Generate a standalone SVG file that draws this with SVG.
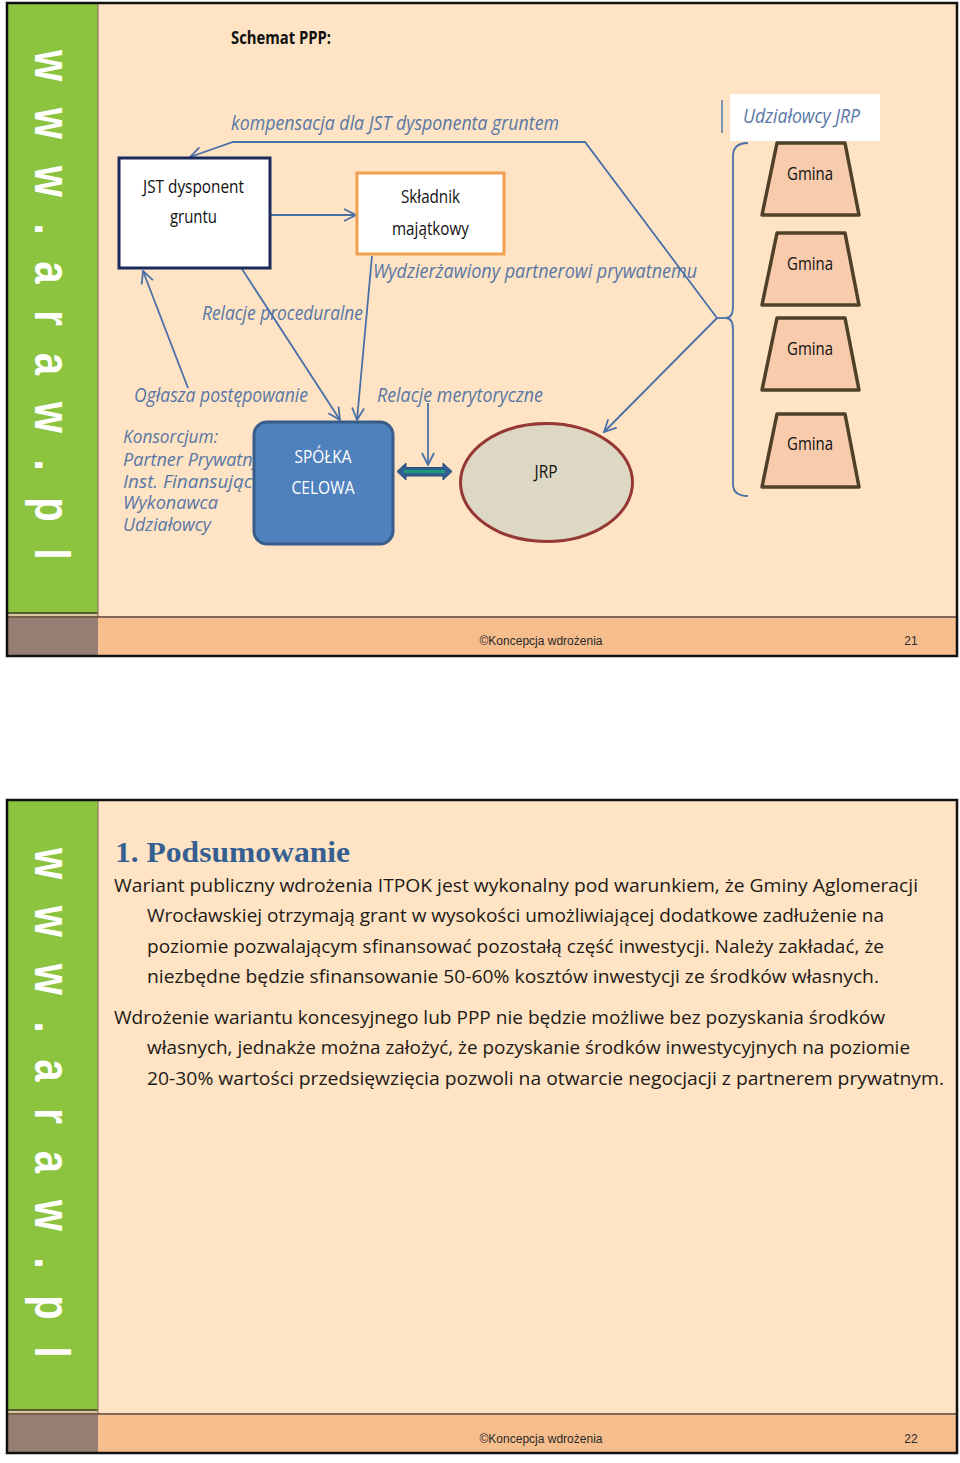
<svg xmlns="http://www.w3.org/2000/svg" width="960" height="1463" viewBox="0 0 960 1463">
<style>
.bg{fill:#ffffff}
.peach{fill:#fee4c4}
.green{fill:#8cc43f}
.foot{fill:#f6bd8d}
.gray{fill:#957f74}
.frame{fill:none;stroke:#111;stroke-width:2.5}
.side{font-family:"Liberation Sans",Arial,sans-serif;font-weight:bold;font-size:50px;fill:#ffffff}
.ft{font-family:"Liberation Sans",Arial,sans-serif;font-size:12px;fill:#2a2a2a}
.lbl{font-family:"Open Sans","Liberation Sans",sans-serif;font-style:italic;font-size:20px;fill:#5876a6}
.ks{font-size:18px}
.tx{font-family:"Open Sans","Liberation Sans",sans-serif;font-size:18px;fill:#111}
.wt{font-family:"Open Sans","Liberation Sans",sans-serif;font-size:18px;fill:#ffffff}
.para{font-family:"Open Sans","Liberation Sans",sans-serif;font-size:18px;fill:#1e1a16}
.conn{fill:none;stroke:#4a70a8;stroke-width:1.8}
.gm{fill:#f8cbad;stroke:#4f4128;stroke-width:3.5;stroke-linejoin:round}
</style>
<defs>
<marker id="ah" viewBox="0 0 14 14" refX="13" refY="7" markerWidth="14" markerHeight="14" markerUnits="userSpaceOnUse" orient="auto">
<path d="M1,1 L13,7 L1,13" fill="none" stroke="#4a70a8" stroke-width="1.8"/>
</marker>
</defs>
<rect class="bg" x="0" y="0" width="960" height="1463"/>

<!-- Slide 1 background -->
<g id="slide1">
<rect class="peach" x="98" y="4" width="858" height="613"/>
<rect class="green" x="8" y="4" width="90" height="609"/>
<rect x="8" y="613" width="90" height="5" fill="#d8c8a0"/>
<line x1="8" y1="613" x2="98" y2="613" stroke="#3a3a20" stroke-width="1.5"/>
<line x1="98" y1="4" x2="98" y2="617" stroke="#8a7a60" stroke-width="1.2"/>
<rect class="foot" x="98" y="618" width="858" height="37"/>
<rect class="gray" x="8" y="618" width="90" height="37"/>
<line x1="8" y1="617" x2="956" y2="617" stroke="#5a3a2a" stroke-width="1.5"/>
<rect class="frame" x="7" y="3" width="950" height="653"/>
<text class="side" transform="translate(35,50) rotate(90) scale(0.8,1)" textLength="637" lengthAdjust="spacing">w w w . a r a w . p l</text>
<text class="ft" x="541" y="645" text-anchor="middle" textLength="123" lengthAdjust="spacingAndGlyphs">©Koncepcja wdrożenia</text>
<text class="ft" x="911" y="645" text-anchor="middle">21</text>
</g>

<!-- Slide 1 content -->
<text x="231" y="44" font-family="Open Sans, Liberation Sans, sans-serif" font-weight="bold" font-size="18" fill="#111" textLength="100" lengthAdjust="spacingAndGlyphs">Schemat PPP:</text>

<g id="labels">
<text class="lbl" x="231" y="130" textLength="328" lengthAdjust="spacingAndGlyphs">kompensacja dla JST dysponenta  gruntem</text>
<text class="lbl" x="373" y="278" textLength="324" lengthAdjust="spacingAndGlyphs">Wydzierżawiony  partnerowi prywatnemu</text>
<text class="lbl" x="202" y="320" textLength="161" lengthAdjust="spacingAndGlyphs">Relacje proceduralne</text>
<text class="lbl" x="134" y="402" textLength="174" lengthAdjust="spacingAndGlyphs">Ogłasza postępowanie</text>
<text class="lbl" x="377" y="402" textLength="166" lengthAdjust="spacingAndGlyphs">Relacje merytoryczne</text>
</g>

<g id="konsorcjum">
<text class="lbl ks" x="123" y="443" textLength="95" lengthAdjust="spacingAndGlyphs">Konsorcjum:</text>
<text class="lbl ks" x="123" y="466" textLength="138" lengthAdjust="spacingAndGlyphs">Partner Prywatny</text>
<text class="lbl ks" x="123" y="488" textLength="140" lengthAdjust="spacingAndGlyphs">Inst. Finansująca</text>
<text class="lbl ks" x="123" y="509" textLength="95" lengthAdjust="spacingAndGlyphs">Wykonawca</text>
<text class="lbl ks" x="123" y="531" textLength="88" lengthAdjust="spacingAndGlyphs">Udziałowcy</text>
</g>

<g id="connectors">
<polyline class="conn" points="717,318 585,142 233,142 190,157" marker-end="url(#ah)"/>
<line class="conn" x1="717" y1="318" x2="604" y2="432" marker-end="url(#ah)"/>
<line class="conn" x1="717" y1="318" x2="727" y2="318"/>
<line class="conn" x1="270" y1="215" x2="356" y2="215" marker-end="url(#ah)"/>
<line class="conn" x1="372" y1="256" x2="357" y2="420" marker-end="url(#ah)"/>
<line class="conn" x1="242" y1="269" x2="340" y2="420" marker-end="url(#ah)"/>
<line class="conn" x1="188" y1="388" x2="143" y2="271" marker-end="url(#ah)"/>
<line class="conn" x1="428" y1="403" x2="428" y2="465" marker-end="url(#ah)"/>
<path class="conn" d="M748,143 Q733,143 733,156 L733,306 Q733,318 726,318 Q733,318 733,330 L733,484 Q733,496 748,496"/>
<line x1="722" y1="100" x2="722" y2="133" stroke="#7f95b5" stroke-width="2"/>
<polygon points="397,471.5 406,463 406,467.5 443,467.5 443,463 452,471.5 443,480 443,476 406,476 406,480" fill="#2f5f8f" stroke="#254e7a" stroke-width="1"/>
<line x1="404" y1="471.5" x2="445" y2="471.5" stroke="#1f9a78" stroke-width="3"/>
</g>

<g id="jst">
<rect x="119" y="158" width="151" height="110" fill="#ffffff" stroke="#1a2a5a" stroke-width="3"/>
<text class="tx" x="193.5" y="193" text-anchor="middle" textLength="101" lengthAdjust="spacingAndGlyphs">JST dysponent</text>
<text class="tx" x="193.5" y="223" text-anchor="middle" textLength="47" lengthAdjust="spacingAndGlyphs">gruntu</text>
</g>

<g id="skladnik">
<rect x="357" y="173" width="147" height="81" fill="#ffffff" stroke="#f0a050" stroke-width="3"/>
<text class="tx" x="430.5" y="203" text-anchor="middle" textLength="59" lengthAdjust="spacingAndGlyphs">Składnik</text>
<text class="tx" x="430.5" y="235" text-anchor="middle" textLength="77" lengthAdjust="spacingAndGlyphs">majątkowy</text>
</g>

<g id="spolka">
<rect x="254" y="422" width="139" height="122" rx="13" fill="#4f81bd" stroke="#385d8a" stroke-width="3"/>
<text class="wt" x="323" y="463" text-anchor="middle" textLength="57" lengthAdjust="spacingAndGlyphs">SPÓŁKA</text>
<text class="wt" x="323" y="494" text-anchor="middle" textLength="63" lengthAdjust="spacingAndGlyphs">CELOWA</text>
</g>

<g id="jrp">
<ellipse cx="546.5" cy="482.5" rx="86" ry="59" fill="#ddd8c4" stroke="#953735" stroke-width="3"/>
<text class="tx" x="546" y="478" text-anchor="middle" textLength="23" lengthAdjust="spacingAndGlyphs">JRP</text>
</g>

<g id="udzialowcy">
<rect x="730" y="94" width="150" height="47" fill="#ffffff"/>
<text class="lbl" x="743" y="123" font-size="21" textLength="117" lengthAdjust="spacingAndGlyphs">Udziałowcy JRP</text>
</g>

<g id="gmina1">
<polygon class="gm" points="777,143 845,143 859,215 762,215"/>
<text class="tx" x="810" y="180" text-anchor="middle" textLength="46" lengthAdjust="spacingAndGlyphs">Gmina</text>
</g>
<g id="gmina2">
<polygon class="gm" points="777,233 845,233 859,305 762,305"/>
<text class="tx" x="810" y="270" text-anchor="middle" textLength="46" lengthAdjust="spacingAndGlyphs">Gmina</text>
</g>
<g id="gmina3">
<polygon class="gm" points="777,318 845,318 859,390 762,390"/>
<text class="tx" x="810" y="355" text-anchor="middle" textLength="46" lengthAdjust="spacingAndGlyphs">Gmina</text>
</g>
<g id="gmina4">
<polygon class="gm" points="777,414 845,414 859,487 762,487"/>
<text class="tx" x="810" y="450" text-anchor="middle" textLength="46" lengthAdjust="spacingAndGlyphs">Gmina</text>
</g>

<!-- Slide 2 -->
<g id="slide2">
<rect class="peach" x="98" y="801" width="858" height="613"/>
<rect class="green" x="8" y="801" width="90" height="609"/>
<rect x="8" y="1410" width="90" height="5" fill="#d8c8a0"/>
<line x1="8" y1="1410" x2="98" y2="1410" stroke="#3a3a20" stroke-width="1.5"/>
<line x1="98" y1="801" x2="98" y2="1414" stroke="#8a7a60" stroke-width="1.2"/>
<rect class="foot" x="98" y="1415" width="858" height="37"/>
<rect class="gray" x="8" y="1415" width="90" height="37"/>
<line x1="8" y1="1414" x2="956" y2="1414" stroke="#5a3a2a" stroke-width="1.5"/>
<rect class="frame" x="7" y="800" width="950" height="653"/>
<text class="side" transform="translate(35,848) rotate(90) scale(0.8,1)" textLength="637" lengthAdjust="spacing">w w w . a r a w . p l</text>
<text class="ft" x="541" y="1443" text-anchor="middle" textLength="123" lengthAdjust="spacingAndGlyphs">©Koncepcja wdrożenia</text>
<text class="ft" x="911" y="1443" text-anchor="middle">22</text>
</g>

<g id="summary">
<text x="115" y="862" font-family="Liberation Serif, serif" font-weight="bold" font-size="29" fill="#365f91" textLength="235" lengthAdjust="spacingAndGlyphs">1. Podsumowanie</text>
<text class="para" x="114" y="892" textLength="804" lengthAdjust="spacingAndGlyphs">Wariant publiczny wdrożenia ITPOK  jest wykonalny pod warunkiem, że  Gminy Aglomeracji</text>
<text class="para" x="147" y="922" textLength="737" lengthAdjust="spacingAndGlyphs">Wrocławskiej otrzymają grant w wysokości umożliwiającej dodatkowe zadłużenie na</text>
<text class="para" x="147" y="953" textLength="737" lengthAdjust="spacingAndGlyphs">poziomie pozwalającym  sfinansować pozostałą część inwestycji. Należy zakładać, że</text>
<text class="para" x="147" y="983" textLength="732" lengthAdjust="spacingAndGlyphs">niezbędne będzie sfinansowanie 50-60% kosztów  inwestycji ze środków własnych.</text>
<text class="para" x="114" y="1024" textLength="771" lengthAdjust="spacingAndGlyphs">Wdrożenie wariantu koncesyjnego lub PPP nie będzie możliwe bez pozyskania środków</text>
<text class="para" x="147" y="1054" textLength="763" lengthAdjust="spacingAndGlyphs">własnych, jednakże można założyć, że pozyskanie środków inwestycyjnych na poziomie</text>
<text class="para" x="147" y="1085" textLength="797" lengthAdjust="spacingAndGlyphs">20-30% wartości przedsięwzięcia pozwoli na otwarcie  negocjacji z partnerem prywatnym.</text>
</g>
</svg>
